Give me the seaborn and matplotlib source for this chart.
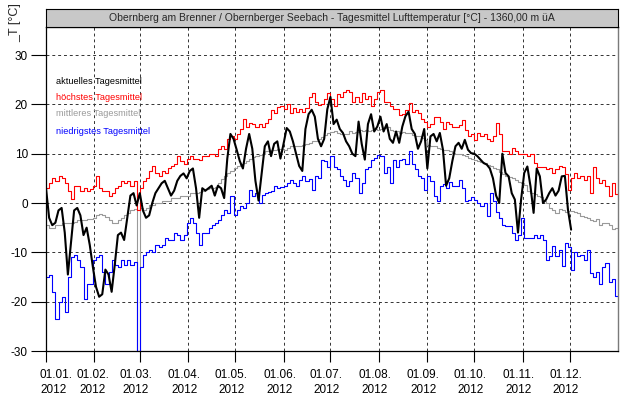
import pandas as pd
import matplotlib
matplotlib.use("Agg")
import matplotlib.pyplot as plt
import matplotlib.transforms as mtransforms
import seaborn as sns

# Daily mean air temperature, Obernberg am Brenner 2012 (values every second day)
TITLE = ("Obernberg am Brenner / Obernberger Seebach - Tagesmittel "
         "Lufttemperatur [°C] - 1360,00 m üA")
YLABEL = "_T [°C]"
SERIES_NAMES = ["aktuelles Tagesmittel", "höchstes Tagesmittel",
                "mittleres Tagesmittel", "niedrigstes Tagesmittel"]
MONTH_LABELS = [f"01.{m:02d}.\n2012" for m in range(1, 13)]
Y_TICKS = [-30, -20, -10, 0, 10, 20, 30]

# highest daily mean of the long-term record
max_temp = [
    3, 4, 5, 4.5, 5.5, 5, 4, 2.5, 0.8, 3.5, 3.5, 2.5, 3, 2.5, 2.8, 3.5,
    5.5, 3, 2.5, 2.5, 1.5, 2, 3, 3.5, 4.5, 4, 4.5, 3.5, 4.5, -1.5,
    3, 4.5, 5, 6.5, 7.5, 6, 5.5, 6.5, 6, 7, 7.5, 8, 9.5, 8.5, 8, 9,
    9.5, 9, 9, 8.8, 9.5, 9.5, 10, 10, 9.5, 11, 11.5, 11, 13, 13.5, 13,
    14, 15, 17, 15.5, 16.2, 16, 15.5, 16, 15.5, 16.2, 17, 18.9, 18.2, 19.5, 19.6,
    19, 20, 18.2, 19.3, 18.5, 19, 18.5, 19.3, 21.5, 22.3, 20.5, 19.9, 20, 21, 22.3,
    21, 19.6, 22, 21.5, 22.5, 23, 22.5, 20.5, 21.5, 20.5, 22.3, 21, 21.6, 19.6, 21, 22.5,
    23, 20.5, 20.5, 19.6, 19, 19, 17.8, 18, 18.9, 20.3, 18.5, 18.8, 18.2, 17, 16.5,
    15.5, 16, 17.5, 17.5, 16.5, 15, 16.5, 16, 15.5, 15.5, 15.8, 16.9, 14.8, 13.5, 14,
    12.8, 14.2, 13.5, 14, 13, 12.5, 13.5, 16.2, 14, 10.5, 10.5, 10, 11.1, 10.5, 10, 10,
    10, 9.5, 10, 8.1, 7.4, 7.4, 7.4, 6.8, 7, 6.1, 6.8, 7.5, 7.4, 5.8, 2.7,
    5, 6, 5, 5.4, 4.7, 5.5, 2, 7.4, 5, 4, 4.7, 3.4, 1.4, 4, 1.8,
]

# average daily mean of the long-term record
mean_temp = [
    -4.5, -5, -5, -4.5, -4.5, -4, -4, -4, -4, -3.8, -3.5, -3.5, -3.5, -3.3, -3.3, -3,
    -2.5, -2.2, -2.5, -2.8, -3.5, -4, -4, -3.5, -3, -2.5, -2, -1.5, -1.2, -30,
    -1, -1.5, -1, -0.5, -0.5, 0, 0, 0.5, 0.5, 0.5, 1, 1, 1, 1.5, 1.5, 1.5,
    2, 2, 2, 2.2, 2.5, 2.8, 3, 3, 3.2, 4, 4.8, 5.5, 6, 6.5, 7,
    7.5, 8, 8.2, 8.6, 9, 9.4, 9.5, 9.8, 10, 10.5, 10.6, 10.8, 10.8, 10.9, 11,
    10.8, 11.2, 11.5, 11.5, 11.6, 11.5, 11.8, 12, 12.2, 12.5, 12.6, 13, 13.4, 13.8, 14.2,
    14.3, 14.5, 14.2, 14, 13.9, 14, 14.5, 14.2, 14.4, 14.8, 14.6, 14.9, 14.6, 14.8, 15, 14.9,
    15, 15.2, 15.5, 14.8, 14.5, 14.6, 14.2, 14.4, 14.1, 14.2, 13.8, 13.6, 13.5, 13.2, 12.8,
    11.8, 11.5, 11.6, 11.2, 11, 10.8, 10.8, 10.5, 10.2, 10, 10, 9.8, 9.5, 9.2, 9,
    8.8, 8.6, 8.4, 8.1, 7.8, 7.5, 7, 6.8, 6.3, 5.8, 5.4, 5.2, 5, 4.7, 4.3, 4,
    3.6, 2.5, 2, 1.8, 1.5, 1.3, 0.5, 0, -1, -1.5, -2, -1.3, -1.5, -1.8, -1.7,
    -1.7, -1.9, -2, -2.7, -2.8, -3, -3.4, -3.6, -3.3, -4.5, -4, -4, -4.5, -5.3, -5,
]

# lowest daily mean of the long-term record
min_temp = [
    -15, -14.5, -18, -23.5, -20, -19, -22, -15, -11, -10.5, -11.5, -13, -19.5, -16.5, -16.5, -11.5,
    -11, -10.5, -14, -16.5, -14, -11.5, -12.5, -13, -11.5, -12.5, -11.5, -12.5, -12, -30,
    -13, -10.5, -10, -9.5, -10, -8.5, -9, -8.5, -7, -7.5, -7.5, -6, -6.5, -7.5, -6.5, -4,
    -3, -4, -6, -8.5, -6, -6, -5, -4.5, -4, -3.5, -2.5, -1.5, -2, 1.5, -2.5,
    -1.4, -0.7, -1, 0, 2.7, 1.4, 2, 0, 1.7, 2, 2.2, 2.4, 3.4, 3, 3.2,
    3.4, 4, 4.7, 4, 3.4, 4.7, 5.4, 4.5, 4.8, 2.7, 5.4, 5, 8.8, 8.5, 7.4,
    9.5, 7.4, 6.8, 5.4, 4.7, 3.4, 4.5, 6.1, 5, 2, 4, 6.8, 7.4, 8.8, 9.2, 9.8,
    9.5, 6.1, 7.4, 4, 8.8, 7.4, 8.8, 9, 8, 10.5, 8, 6.8, 5.4, 5, 2.7,
    5.4, 4.5, 1.4, 0.5, 3.4, 3.8, 3, 4.2, 3.5, 3.5, 4.7, 3, 0.5, 0.7, 1.2,
    0.7, 0, -0.7, 0, -2.7, 2, 0.5, -1.8, -3, -4.5, -4.7, -4.7, -6.1, -7.4, -6.5, -3,
    -7, -7, -7, -6.4, -7, -6.5, -7.5, -11.5, -10.8, -8.8, -10.8, -9.5, -12.8, -8.2, -9,
    -13.5, -10, -10.8, -10.5, -11.5, -9.5, -14.2, -15, -14, -16.5, -13, -12.2, -16, -15.5, -18.9,
]

# current year 2012
actual_temp = [
    3, -3, -4.5, -4, -1.5, -1, -6, -14.5, -8, -1.5, -1, -2.5, -6.5, -5, -8.5, -13,
    -17, -19, -18.5, -13.5, -14.5, -18, -12.5, -6.5, -6, -7.5, -3, 1.5, 2, -0.5,
    2, -1.5, -3, -2.5, 0, 2, 3, 4, 4.5, 3, 1.5, 2.5, 4.5, 5.5, 6, 5,
    6.5, 7, 3, -3, 3, 2.5, 3, 3.5, 1.5, 3.5, 3, 1, 9, 14, 13,
    10.8, 8.5, 7, 11, 14, 11, 4.5, 0.5, 6, 11.5, 12.5, 9.5, 12, 12.5, 9,
    12, 15.2, 14.5, 12.5, 10, 7.5, 6.5, 15, 18, 18.9, 17.5, 13, 11.5, 13, 19,
    21.5, 16, 16.9, 15, 14.2, 12.5, 11.5, 10, 9.5, 16.5, 12, 8.8, 16, 18, 14.5, 15.5,
    17.5, 14.5, 16, 13, 12.2, 14.5, 12.2, 15.5, 17.6, 18.5, 15, 14, 11, 12.5, 15,
    7, 13.5, 14, 12.5, 14.2, 10.8, 3.5, 5, 8.5, 11.5, 12.2, 11, 12.8, 10.8, 10.1,
    10, 9.5, 8.8, 8.1, 7.8, 7, 5, 1.5, 0, 10, 6.1, 5.4, 2, 0.7, -6, 0.7,
    6.1, 7.4, 3.4, -2, 7, 5.4, 0, 0.7, 2, 3, 1.5, 2.5, 5.4, 5.5, -1.4,
    -5.4,
]

YEAR_START = pd.Timestamp("2012-01-01")
YEAR_END = pd.Timestamp("2013-01-01")


def dates_for(values):
    return pd.date_range(YEAR_START, periods=len(values), freq="2D")


def step_frame(values):
    # repeat the last value at year end so the final step reaches 31.12.
    d = list(dates_for(values)) + [YEAR_END]
    v = list(values) + [values[-1]]
    return pd.DataFrame({"Datum": d, "T": v})


sns.set_theme(style="white")
plt.rcParams["font.family"] = ["Liberation Sans", "DejaVu Sans"]

W, H = 627, 401
fig = plt.figure(figsize=(W / 100, H / 100), dpi=100)
ax = fig.add_axes([46 / W, 1 - 351 / H, (618 - 46) / W, (351 - 27) / H])

COLORS = {"actual": "#000000", "max": "#ff0000", "mean": "#9a9a9a", "min": "#0000ff"}

for vals, key in [(mean_temp, "mean"), (max_temp, "max"), (min_temp, "min")]:
    df = step_frame(vals)
    sns.lineplot(data=df, x="Datum", y="T", ax=ax, color=COLORS[key],
                 linewidth=0.8, drawstyle="steps-post", estimator=None,
                 sort=False)

df_act = pd.DataFrame({"Datum": dates_for(actual_temp), "T": actual_temp})
sns.lineplot(data=df_act, x="Datum", y="T", ax=ax, color=COLORS["actual"],
             linewidth=1.5, estimator=None, sort=False)

ax.set_xlim(YEAR_START, YEAR_END)
ax.set_ylim(-30, 35.68)
ax.set_xlabel("")
ax.set_ylabel("")
ax.set_yticks(Y_TICKS)
ax.set_yticklabels([str(t) for t in Y_TICKS])
month_starts = [pd.Timestamp(2012, m, 1) for m in range(1, 13)]
ax.set_xticks(month_starts)
ax.set_xticklabels(MONTH_LABELS, linespacing=1.35)

ax.grid(True, linestyle=(0, (3, 3)), color="#333333", linewidth=0.7)
ax.tick_params(axis="y", length=11, width=0.8, pad=2, labelsize=8.5,
               direction="out", left=True, colors="#000000")
ax.tick_params(axis="x", length=8, width=0.8, pad=5, labelsize=8.5,
               direction="out", bottom=True, colors="#000000")

# month labels sit slightly left of their ticks; the first starts near the axis
xlabels = ax.get_xticklabels()
xlabels[0].set_horizontalalignment("left")
for i, lab in enumerate(xlabels):
    dx = {0: -6, 1: -2}.get(i, -4)
    lab.set_transform(lab.get_transform() +
                      mtransforms.ScaledTranslation(dx / 100, 0, fig.dpi_scale_trans))

for side in ["left", "bottom", "top"]:
    ax.spines[side].set_color("#000000")
    ax.spines[side].set_linewidth(0.9)
ax.spines["right"].set_color("#7a7a7a")
ax.spines["right"].set_linewidth(1.0)

# legend as coloured text lines in the upper left corner
legend_colors = [COLORS["actual"], COLORS["max"], COLORS["mean"], COLORS["min"]]
legend_y = [81, 97, 113.5, 131]
for name, col, yp in zip(SERIES_NAMES, legend_colors, legend_y):
    fig.text(56 / W, 1 - yp / H, name, color=col, fontsize=6.6,
             ha="left", va="center")

# title bar above the plot
tax = fig.add_axes([46 / W, 1 - 27 / H, (618 - 46) / W, 18 / H])
tax.set_facecolor("#c8c8c8")
tax.set_xticks([])
tax.set_yticks([])
for s in tax.spines.values():
    s.set_color("#000000")
    s.set_linewidth(0.8)
tax.text(0.5, 0.5, TITLE, ha="center", va="center", fontsize=7.5,
         transform=tax.transAxes)

fig.text(15 / W, 1 - 3 / H, YLABEL, rotation=90, ha="center", va="top",
         fontsize=9)

fig.savefig("out.png", dpi=100, facecolor="white")
